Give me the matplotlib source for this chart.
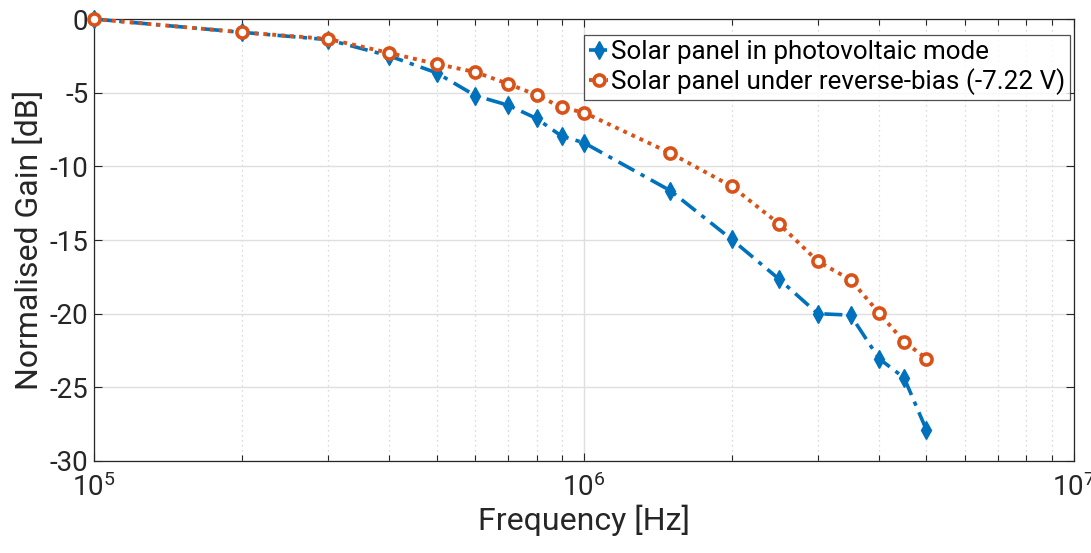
import matplotlib
matplotlib.use("Agg")
import matplotlib.pyplot as plt
from matplotlib.ticker import LogLocator, NullFormatter, FixedLocator

plt.rcParams['font.family'] = ['Roboto', 'DejaVu Sans']

# Frequency sweep points [Hz]
freq = [1e5, 2e5, 3e5, 4e5, 5e5, 6e5, 7e5, 8e5, 9e5, 1e6,
        1.5e6, 2e6, 2.5e6, 3e6, 3.5e6, 4e6, 4.5e6, 5e6]

# Normalised gain [dB]
gain_pv = [0.0, -0.9, -1.4, -2.5, -3.65, -5.2, -5.85, -6.75, -7.95, -8.4,
           -11.65, -14.95, -17.65, -20.0, -20.1, -23.05, -24.35, -27.9]
gain_rb = [0.0, -0.9, -1.35, -2.3, -3.05, -3.6, -4.4, -5.15, -6.0, -6.35,
           -9.1, -11.35, -13.9, -16.45, -17.7, -19.95, -21.9, -23.05]

labels = ["Solar panel in photovoltaic mode",
          "Solar panel under reverse-bias (-7.22 V)"]
y_ticks = [0, -5, -10, -15, -20, -25, -30]

blue = "#0072BD"
orange = "#D95319"
axcol = "#262626"

fig = plt.figure(figsize=(10.91, 5.53), dpi=100)
ax = fig.add_axes([0.0862, 0.1664, 0.9844 - 0.0862, 0.9656 - 0.1664])

ax.plot(freq, gain_pv, linestyle=(0, (5, 2, 1.2, 2)), color=blue, linewidth=2.6,
        marker="d", markersize=9, markerfacecolor=blue, markeredgecolor=blue,
        label=labels[0], zorder=3, clip_on=False)
ax.plot(freq, gain_rb, linestyle=(0, (1, 1.3)), color=orange, linewidth=2.8,
        marker="o", markersize=8, markerfacecolor="white", markeredgecolor=orange,
        markeredgewidth=2.6, label=labels[1], zorder=4, clip_on=False)

ax.set_xscale("log")
ax.set_xlim(1e5, 1e7)
ax.set_ylim(-30, 0)
ax.yaxis.set_major_locator(FixedLocator(y_ticks))
ax.set_yticklabels([str(t) for t in y_ticks])
ax.xaxis.set_major_locator(LogLocator(base=10))
ax.xaxis.set_minor_locator(LogLocator(base=10, subs=range(2, 10)))
ax.xaxis.set_minor_formatter(NullFormatter())

ax.grid(True, which="major", color="#dfdfdf", linewidth=1.0, linestyle="-")
ax.grid(True, which="minor", axis="x", color="#cfcfcf", linewidth=0.9,
        linestyle=(0, (1, 3)))
ax.set_axisbelow(True)

ax.tick_params(which="both", direction="in", top=True, right=True,
               colors=axcol, labelsize=20)
ax.tick_params(which="major", length=6, width=0.8)
ax.tick_params(which="minor", length=4, width=0.8)
ax.tick_params(axis="x", pad=9)
ax.tick_params(axis="y", pad=4)
for s in ax.spines.values():
    s.set_color(axcol)
    s.set_linewidth(0.9)

ax.set_xlabel("Frequency [Hz]", fontsize=23, color=axcol, labelpad=2)
ax.set_ylabel("Normalised Gain [dB]", fontsize=23, color=axcol, labelpad=4)

leg = ax.legend(loc="upper right", bbox_to_anchor=(0.999, 0.97), fontsize=18.7,
                frameon=True, fancybox=False, edgecolor=axcol, labelcolor="black",
                handlelength=0.75, handletextpad=0.1, borderpad=0.2,
                labelspacing=0.15, borderaxespad=0.1)
leg.get_frame().set_linewidth(0.9)

fig.savefig("out.png", dpi=100)
